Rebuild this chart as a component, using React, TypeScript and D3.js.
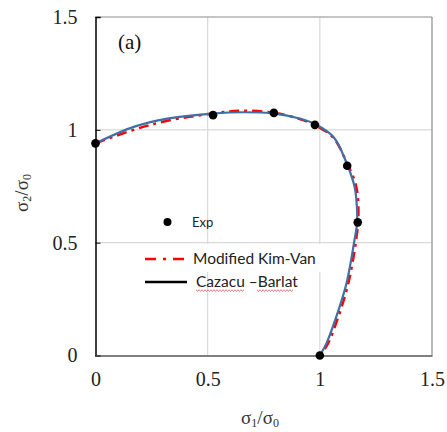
import React, { useEffect, useRef } from 'react';
import * as d3 from 'd3';

const ticks = [0, 0.5, 1, 1.5];
const tickLabels = ['0', '0.5', '1', '1.5'];

const expX = [0, 0.524, 0.795, 0.978, 1.122, 1.169, 1.0];
const expY = [0.94, 1.065, 1.075, 1.022, 0.841, 0.59, 0];

const cbX = [0, 0.17, 0.32, 0.52, 0.66, 0.8, 0.91, 0.98, 1.06, 1.12, 1.155, 1.163, 1.166, 1.152, 1.119, 1.074, 1.03, 1.0];
const cbY = [0.94, 1.013, 1.05, 1.072, 1.078, 1.072, 1.05, 1.025, 0.969, 0.851, 0.748, 0.69, 0.59, 0.497, 0.32, 0.173, 0.055, 0];

const kvX = [0, 0.17, 0.32, 0.52, 0.65, 0.8, 0.91, 0.98, 1.06, 1.12, 1.162, 1.172, 1.16, 1.127, 1.082, 1.035, 1.0];
const kvY = [0.94, 1.0, 1.04, 1.072, 1.085, 1.075, 1.048, 1.02, 0.965, 0.855, 0.75, 0.62, 0.5, 0.32, 0.17, 0.05, 0];

const legendNames = ['Exp', 'Modified Kim-Van', 'Cazacu \u2013Barlat'];

export default function App() {
  const ref = useRef<SVGSVGElement>(null);

  useEffect(() => {
    const svg = d3.select(ref.current);
    svg.selectAll('*').remove();

    const x = d3.scaleLinear().domain([0, 1.5]).range([95.5, 432]);
    const y = d3.scaleLinear().domain([0, 1.5]).range([355.5, 17]);

    // gridlines
    const grid = svg.append('g');
    [0.5, 1].forEach(v => {
      grid.append('line').attr('x1', x(v)).attr('x2', x(v)).attr('y1', y(0)).attr('y2', y(1.5))
        .attr('stroke', '#d9d9d9').attr('stroke-width', 1.2);
      grid.append('line').attr('x1', x(0)).attr('x2', x(1.5)).attr('y1', y(v)).attr('y2', y(v))
        .attr('stroke', '#d9d9d9').attr('stroke-width', 1.2);
    });

    // frame
    svg.append('line').attr('x1', x(0)).attr('x2', x(1.5)).attr('y1', y(1.5)).attr('y2', y(1.5))
      .attr('stroke', '#8c8c8c').attr('stroke-width', 1.2);
    svg.append('line').attr('x1', x(1.5)).attr('x2', x(1.5)).attr('y1', y(0)).attr('y2', y(1.5))
      .attr('stroke', '#8c8c8c').attr('stroke-width', 1.2);

    const fmt = (d: d3.NumberValue) => tickLabels[ticks.indexOf(+d)];

    const yAxis = svg.append('g').attr('transform', `translate(${x(0)},0)`)
      .call(d3.axisLeft(y).tickValues(ticks).tickSize(-5).tickPadding(18).tickFormat(fmt));
    yAxis.select('.domain').attr('stroke', '#000').attr('stroke-width', 1.5);
    yAxis.selectAll('.tick line').attr('stroke', '#000');
    yAxis.selectAll('text').attr('font-family', 'Liberation Serif').attr('font-size', 20).attr('fill', '#222');

    const xAxis = svg.append('g').attr('transform', `translate(0,${y(0)})`)
      .call(d3.axisBottom(x).tickValues(ticks).tickSize(0).tickPadding(16).tickFormat(fmt));
    xAxis.select('.domain').attr('stroke', '#555').attr('stroke-width', 1.5);
    xAxis.selectAll('text').attr('font-family', 'Liberation Serif').attr('font-size', 20).attr('fill', '#222');

    // axis titles
    svg.append('text').attr('x', 260).attr('y', 424).attr('text-anchor', 'middle')
      .attr('font-family', 'Liberation Serif').attr('font-size', 19).attr('fill', '#333')
      .html('σ<tspan font-size="12" dy="3">1</tspan><tspan dy="-3">/σ</tspan><tspan font-size="12" dy="3">0</tspan>');
    svg.append('text').attr('transform', 'translate(28,193) rotate(-90)').attr('text-anchor', 'middle')
      .attr('font-family', 'Liberation Serif').attr('font-size', 19).attr('fill', '#333')
      .html('σ<tspan font-size="12" dy="3">2</tspan><tspan dy="-3">/σ</tspan><tspan font-size="12" dy="3">0</tspan>');

    svg.append('text').attr('x', 118).attr('y', 49)
      .attr('font-family', 'Liberation Serif').attr('font-size', 21).attr('fill', '#111').text('(a)');

    // legend box hides gridlines behind one row
    svg.append('rect').attr('x', 183).attr('y', 244).attr('width', 149).attr('height', 28).attr('fill', '#fff');

    const line = d3.line<[number, number]>().x(d => x(d[0])).y(d => y(d[1])).curve(d3.curveCatmullRom);

    svg.append('path').datum(kvX.map((v, i) => [v, kvY[i]] as [number, number]))
      .attr('d', line).attr('fill', 'none').attr('stroke', '#ff0000').attr('stroke-width', 2.5)
      .attr('stroke-dasharray', '10 5 3 5');

    svg.append('path').datum(cbX.map((v, i) => [v, cbY[i]] as [number, number]))
      .attr('d', line).attr('fill', 'none').attr('stroke', '#3f6fa3').attr('stroke-width', 2.2);

    svg.selectAll('circle.exp').data(expX.map((v, i) => [v, expY[i]])).enter()
      .append('circle').attr('class', 'exp')
      .attr('cx', d => x(d[0])).attr('cy', d => y(d[1])).attr('r', 4.3).attr('fill', '#000');

    // legend
    const lg = svg.append('g').attr('font-family', 'Lato').attr('fill', '#222');
    lg.append('circle').attr('cx', 167.5).attr('cy', 222).attr('r', 4).attr('fill', '#000');
    lg.append('text').attr('x', 192).attr('y', 227).attr('font-size', 13).text(legendNames[0]);
    lg.append('line').attr('x1', 145).attr('x2', 184).attr('y1', 259).attr('y2', 259)
      .attr('stroke', '#ff0000').attr('stroke-width', 2.5).attr('stroke-dasharray', '11 7 3 7');
    lg.append('text').attr('x', 193).attr('y', 264).attr('font-size', 15.5).text(legendNames[1]);
    lg.append('line').attr('x1', 145).attr('x2', 187).attr('y1', 282).attr('y2', 282)
      .attr('stroke', '#000').attr('stroke-width', 2.5);
    lg.append('text').attr('x', 196).attr('y', 287).attr('font-size', 15.5).text(legendNames[2]);

    // spell-check squiggles under the last legend entry
    const squiggle = (x0: number, x1: number, yy: number) => {
      const pts: [number, number][] = [];
      for (let px = x0, k = 0; px <= x1; px += 1.5, k++) pts.push([px, yy + (k % 2 ? 1.2 : -0.2)]);
      lg.append('path').attr('d', d3.line()(pts)).attr('fill', 'none').attr('stroke', '#e03030').attr('stroke-width', 0.7);
    };
    squiggle(196, 245, 290);
    squiggle(257, 293, 290);
  }, []);

  return (
    <svg ref={ref} width={447} height={432}
      style={{ position: 'absolute', left: 0, top: 0, background: '#fff' }} />
  );
}
